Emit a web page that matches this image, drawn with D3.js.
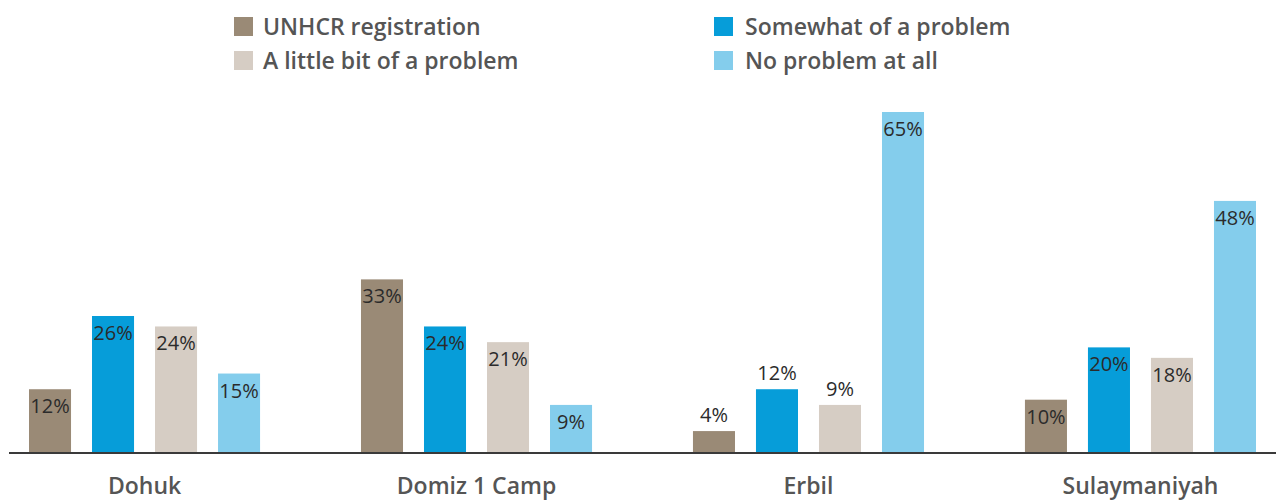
<!DOCTYPE html>
<html>
<head>
<meta charset="utf-8">
<script src="https://cdn.jsdelivr.net/npm/d3@7"></script>
<style>
  body { margin: 0; background: #fff; }
  svg { display: block; font-family: "Open Sans", sans-serif; }
  .legend text, .cat text { fill: #555; font-weight: 600; font-size: 23px; }
  .val { fill: #2b2b2b; font-size: 20px; }
</style>
</head>
<body>
<svg id="chart" width="1276" height="502"></svg>
<script>
var regions = ["Dohuk", "Domiz 1 Camp", "Erbil", "Sulaymaniyah"];
var seriesNames = ["UNHCR registration", "Somewhat of a problem", "A little bit of a problem", "No problem at all"];
var unhcr = [12, 33, 4, 10];
var somewhat = [26, 24, 12, 20];
var littleBit = [24, 21, 9, 18];
var noProblem = [15, 9, 65, 48];
var colors = ["#9a8a76", "#069dd9", "#d6cdc4", "#84cdec"];

var allSeries = [unhcr, somewhat, littleBit, noProblem];

var svg = d3.select("#chart");
var baseY = 452;

var x0 = d3.scaleBand()
  .domain(regions)
  .range([29, 1256])
  .paddingInner(0.304);

var x1 = d3.scaleBand()
  .domain(seriesNames)
  .range([0, x0.bandwidth()])
  .paddingInner(0.333);

var y = d3.scaleLinear()
  .domain([0, d3.max(allSeries, function(s) { return d3.max(s); })])
  .range([baseY, 112]);

var color = d3.scaleOrdinal().domain(seriesNames).range(colors);

// flatten into bar records
var bars = [];
regions.forEach(function(r, i) {
  seriesNames.forEach(function(s, j) {
    bars.push({region: r, series: s, value: allSeries[j][i]});
  });
});

var g = svg.append("g");

g.selectAll("rect.bar")
  .data(bars)
  .enter().append("rect")
  .attr("class", "bar")
  .attr("x", function(d) { return x0(d.region) + x1(d.series); })
  .attr("y", function(d) { return y(d.value); })
  .attr("width", x1.bandwidth())
  .attr("height", function(d) { return baseY - y(d.value); })
  .attr("fill", function(d) { return color(d.series); });

// value labels: small Erbil bars have their label sitting above the bar
g.selectAll("text.val")
  .data(bars)
  .enter().append("text")
  .attr("class", "val")
  .attr("text-anchor", "middle")
  .attr("x", function(d) { return x0(d.region) + x1(d.series) + x1.bandwidth() / 2; })
  .attr("y", function(d) {
    var outside = d.region === "Erbil" && d.value < 20;
    return outside ? y(d.value) - 9 : y(d.value) + 24;
  })
  .text(function(d) { return d.value + "%"; });

// baseline
svg.append("line")
  .attr("x1", 9).attr("x2", 1276)
  .attr("y1", baseY + 1).attr("y2", baseY + 1)
  .attr("stroke", "#3a3a3a")
  .attr("stroke-width", 2);

// category labels
var cat = svg.append("g").attr("class", "cat");
cat.selectAll("text")
  .data(regions)
  .enter().append("text")
  .attr("text-anchor", "middle")
  .attr("x", function(d) { return x0(d) + x0.bandwidth() / 2; })
  .attr("y", 494)
  .text(function(d) { return d; });

// legend, two columns
var legendPos = [[234, 17], [714, 17], [234, 51], [714, 51]];
var legendOrder = [0, 1, 2, 3];
var leg = svg.append("g").attr("class", "legend");
var item = leg.selectAll("g")
  .data(legendOrder)
  .enter().append("g")
  .attr("transform", function(d, i) { return "translate(" + legendPos[i][0] + "," + legendPos[i][1] + ")"; });
item.append("rect")
  .attr("width", 19).attr("height", 19)
  .attr("fill", function(d) { return colors[d]; });
item.append("text")
  .attr("x", function(d, i) { return i % 2 === 0 ? 29 : 31; })
  .attr("y", 18)
  .text(function(d) { return seriesNames[d]; });
</script>
</body>
</html>
